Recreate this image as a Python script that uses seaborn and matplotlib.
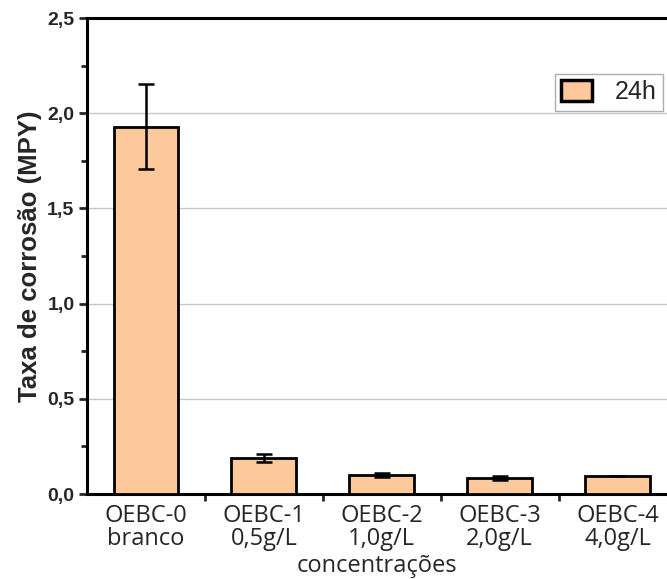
import matplotlib
matplotlib.use("Agg")
import matplotlib.pyplot as plt
from matplotlib.ticker import FuncFormatter, MultipleLocator, FixedLocator
from matplotlib.patches import Patch
import seaborn as sns
import pandas as pd

# Corrosion rate (MPY) after 24 h for each extract concentration
categories = ["OEBC-0\nbranco", "OEBC-1\n0,5g/L", "OEBC-2\n1,0g/L", "OEBC-3\n2,0g/L", "OEBC-4\n4,0g/L"]
rate_24h = [1.93, 0.19, 0.10, 0.084, 0.095]
err_24h = [0.225, 0.022, 0.012, 0.010, 0.0]

bar_color = "#FDC99A"

sns.set_theme(style="white")
plt.rcParams["font.family"] = ["Liberation Sans", "DejaVu Sans"]

fig = plt.figure(figsize=(6.67, 5.79), dpi=100)
ax = fig.add_axes([0.1304, 0.1468, 0.8696, 0.822])

df = pd.DataFrame({"cat": categories, "rate": rate_24h})
sns.barplot(data=df, x="cat", y="rate", color=bar_color, saturation=1,
            edgecolor="black", linewidth=2.0, width=0.55, errorbar=None, ax=ax, zorder=3)

xs = [p.get_x() + p.get_width() / 2 for p in ax.patches]
ax.errorbar(xs, rate_24h, yerr=err_24h, fmt="none", ecolor="black",
            elinewidth=1.8, capsize=5.5, capthick=1.8, zorder=4)

ax.set_ylim(0, 2.5)
ax.set_xlim(-0.5, 4.42)

ax.yaxis.set_major_locator(MultipleLocator(0.5))
ax.yaxis.set_minor_locator(MultipleLocator(0.25))
ax.yaxis.set_major_formatter(FuncFormatter(lambda v, p: f"{v:.1f}".replace(".", ",")))
ax.grid(axis="y", which="major", color="#c8c8c8", linewidth=1.0, zorder=0)
ax.set_axisbelow(True)

ax.tick_params(axis="y", which="major", direction="out", length=6, width=2, left=True,
               labelsize=14, pad=3)
ax.tick_params(axis="y", which="minor", direction="out", length=4, width=2, left=True)
for lbl in ax.get_yticklabels():
    lbl.set_fontweight("bold")

# category labels under bars, ticks on category boundaries
ax.set_xticks(range(len(categories)))
ax.set_xticklabels(categories, fontsize=17, linespacing=0.98, family=["Open Sans", "DejaVu Sans"])
ax.tick_params(axis="x", which="major", length=0, pad=7)
ax.xaxis.set_minor_locator(FixedLocator([0.5, 1.5, 2.5, 3.5]))
ax.tick_params(axis="x", which="minor", direction="out", length=5, width=2, bottom=True)

for side in ["left", "bottom", "top"]:
    ax.spines[side].set_visible(True)
    ax.spines[side].set_color("black")
    ax.spines[side].set_linewidth(2.2)
ax.spines["right"].set_visible(False)

ax.set_xlabel("concentrações", fontsize=17, labelpad=2, family=["Open Sans", "DejaVu Sans"])
ax.set_ylabel("Taxa de corrosão (MPY)", fontsize=18.5, fontweight="bold", labelpad=4)

handle = Patch(facecolor=bar_color, edgecolor="black", linewidth=2.5, label="24h")
leg = ax.legend(handles=[handle], loc="upper right", bbox_to_anchor=(0.993, 0.882),
                borderaxespad=0, fontsize=18, frameon=True, fancybox=False, edgecolor="#999999",
                handlelength=1.25, handleheight=0.9, borderpad=0.25, handletextpad=0.9)
leg.get_frame().set_linewidth(1.0)

fig.savefig("out.png", dpi=100)
